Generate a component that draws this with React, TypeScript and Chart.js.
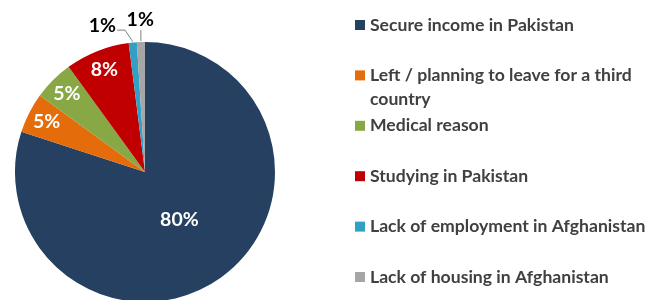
import React, { useEffect, useRef } from "react";
import { Chart, registerables } from "chart.js";

Chart.register(...registerables);

const categories = [
  "Secure income in Pakistan",
  "Left / planning to leave for a third country",
  "Medical reason",
  "Studying in Pakistan",
  "Lack of employment in Afghanistan",
  "Lack of housing in Afghanistan",
];
const shares = [80, 5, 5, 8, 1, 1];
const valueLabels = ["80%", "5%", "5%", "8%", "1%", "1%"];
const colors = ["#264061", "#E46C0A", "#87A844", "#C00000", "#31A0C4", "#A6A6A6"];

const FONT = "Lato, 'Open Sans', sans-serif";
const LABEL_FONT = `bold 19.5px ${FONT}`;
const LEGEND_FONT = `bold 17.6px ${FONT}`;

const labelPlugin = {
  id: "pieLabels",
  afterDatasetsDraw(chart: any) {
    const ctx = chart.ctx;
    const meta = chart.getDatasetMeta(0);
    const total = shares.reduce((a, b) => a + b, 0);
    ctx.save();
    ctx.font = LABEL_FONT;
    ctx.textAlign = "center";
    ctx.textBaseline = "middle";
    const placed: { l: number; r: number; t: number; b: number }[] = [];
    for (let i = meta.data.length - 1; i >= 0; i--) {
      const arc = meta.data[i];
      const p = arc.getProps(["x", "y", "startAngle", "endAngle", "outerRadius"], true);
      const mid = (p.startAngle + p.endAngle) / 2;
      const frac = shares[i] / total;
      const text = valueLabels[i];
      const w = ctx.measureText(text).width;
      const h = 18;
      if (frac >= 0.03) {
        const r = frac > 0.5 ? p.outerRadius * 0.45 : p.outerRadius * 0.85;
        ctx.fillStyle = "#FFFFFF";
        ctx.fillText(text, p.x + Math.cos(mid) * r, p.y + Math.sin(mid) * r);
      } else {
        const R = p.outerRadius + 22;
        let ang = mid;
        let lx = p.x + Math.cos(ang) * R;
        let ly = p.y + Math.sin(ang) * R;
        const overlaps = () =>
          placed.some(
            (b) => lx - w / 2 < b.r + 10 && lx + w / 2 > b.l - 10 && ly - h / 2 < b.b && ly + h / 2 > b.t
          );
        let moved = false;
        let guard = 0;
        while (overlaps() && guard < 400) {
          ang -= 0.005;
          lx = p.x + Math.cos(ang) * R;
          ly = p.y + Math.sin(ang) * R;
          moved = true;
          guard++;
        }
        placed.push({ l: lx - w / 2, r: lx + w / 2, t: ly - h / 2, b: ly + h / 2 });
        ctx.fillStyle = "#000000";
        ctx.fillText(text, lx, ly);
        const ax = p.x + Math.cos(mid) * (p.outerRadius + 1);
        const ay = p.y + Math.sin(mid) * (p.outerRadius + 1);
        ctx.strokeStyle = "#7F7F7F";
        ctx.lineWidth = 1;
        ctx.beginPath();
        if (moved) {
          const sx = lx + w / 2 + 1;
          const sy = ly + 4;
          ctx.moveTo(sx, sy);
          ctx.lineTo(sx + 8, sy);
          ctx.lineTo(ax, ay);
        } else {
          ctx.moveTo(ax, ly + h / 2 + 1);
          ctx.lineTo(ax, ay);
        }
        ctx.stroke();
      }
    }
    ctx.restore();
  },
};

const legendPlugin = {
  id: "wrapLegend",
  afterDraw(chart: any) {
    const ctx = chart.ctx;
    const boxX = 355;
    const textX = 370;
    const maxW = 651 - textX;
    const firstY = 25;
    const step = 50.4;
    const lineH = 24;
    ctx.save();
    ctx.font = LEGEND_FONT;
    ctx.textBaseline = "middle";
    ctx.textAlign = "left";
    categories.forEach((label, i) => {
      const y = firstY + i * step;
      ctx.fillStyle = colors[i];
      ctx.fillRect(boxX, y - 5, 10, 10);
      const words = label.split(" ");
      const lines: string[] = [];
      let cur = "";
      words.forEach((wd) => {
        const test = cur ? cur + " " + wd : wd;
        if (ctx.measureText(test).width > maxW && cur) {
          lines.push(cur);
          cur = wd;
        } else cur = test;
      });
      if (cur) lines.push(cur);
      ctx.fillStyle = "#404040";
      lines.forEach((ln, k) => ctx.fillText(ln, textX, y + k * lineH));
    });
    ctx.restore();
  },
};

export default function App() {
  const ref = useRef<HTMLCanvasElement | null>(null);
  useEffect(() => {
    document.body.style.margin = "0";
    if (!ref.current) return;
    const chart = new Chart(ref.current, {
      type: "pie",
      data: {
        labels: categories,
        datasets: [
          {
            data: shares,
            backgroundColor: colors,
            borderWidth: 0,
            hoverOffset: 0,
          },
        ],
      },
      options: {
        responsive: false,
        maintainAspectRatio: false,
        animation: false,
        events: [],
        layout: { padding: { left: 15, top: 42, right: 376, bottom: 38 } },
        plugins: {
          legend: { display: false },
          tooltip: { enabled: false },
          title: { display: false },
        },
      },
      plugins: [labelPlugin, legendPlugin],
    });
    return () => chart.destroy();
  }, []);
  return (
    <div style={{ width: 651, height: 300, overflow: "hidden", background: "#FFFFFF" }}>
      <canvas ref={ref} width={651} height={340} style={{ display: "block" }} />
    </div>
  );
}
